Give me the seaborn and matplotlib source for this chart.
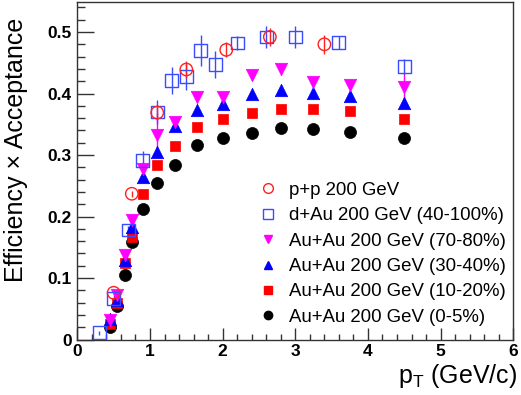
import numpy as np
import pandas as pd
import matplotlib
matplotlib.use("Agg")
import matplotlib.pyplot as plt
import seaborn as sns
from matplotlib.ticker import MultipleLocator
from matplotlib.lines import Line2D

sns.set_style("ticks")
plt.rcParams['font.family'] = ['Liberation Sans', 'DejaVu Sans']
plt.rcParams['mathtext.fontset'] = 'custom'
plt.rcParams['mathtext.rm'] = 'Liberation Sans'
plt.rcParams['text.color'] = 'black'
plt.rcParams['axes.labelcolor'] = 'black'
plt.rcParams['xtick.color'] = 'black'
plt.rcParams['ytick.color'] = 'black'

# ---- data ----
x_au = [0.45, 0.55, 0.65, 0.75, 0.9, 1.1, 1.35, 1.65, 2.0, 2.4, 2.8, 3.25, 3.75, 4.5]
y_0_5 = [0.020, 0.055, 0.105, 0.158, 0.212, 0.254, 0.283, 0.316, 0.327, 0.335, 0.344, 0.343, 0.337, 0.328]
e_0_5 = [0.002, 0.003, 0.003, 0.003, 0.003, 0.003, 0.003, 0.003, 0.003, 0.003, 0.003, 0.003, 0.003, 0.004]
y_10_20 = [0.026, 0.060, 0.124, 0.166, 0.237, 0.283, 0.315, 0.345, 0.358, 0.368, 0.375, 0.374, 0.372, 0.359]
e_10_20 = [0.002, 0.003, 0.004, 0.004, 0.004, 0.004, 0.004, 0.004, 0.004, 0.004, 0.004, 0.004, 0.004, 0.005]
y_30_40 = [0.033, 0.064, 0.129, 0.183, 0.264, 0.305, 0.347, 0.373, 0.383, 0.399, 0.406, 0.401, 0.396, 0.384]
e_30_40 = [0.003, 0.004, 0.005, 0.006, 0.006, 0.006, 0.005, 0.005, 0.005, 0.005, 0.005, 0.005, 0.006, 0.008]
y_70_80 = [0.032, 0.072, 0.137, 0.194, 0.277, 0.333, 0.354, 0.394, 0.395, 0.430, 0.440, 0.419, 0.414, 0.410]
e_70_80 = [0.005, 0.006, 0.008, 0.010, 0.012, 0.035, 0.008, 0.008, 0.008, 0.008, 0.008, 0.008, 0.010, 0.025]

x_pp = [0.5, 0.75, 1.1, 1.5, 2.05, 2.65, 3.4]
y_pp = [0.076, 0.237, 0.369, 0.439, 0.471, 0.492, 0.480]
e_pp = [0.004, 0.005, 0.010, 0.014, 0.012, 0.014, 0.015]

x_dau = [0.3, 0.5, 0.7, 0.9, 1.1, 1.3, 1.5, 1.7, 1.9, 2.2, 2.6, 3.0, 3.6, 4.5]
y_dau = [0.011, 0.067, 0.178, 0.291, 0.370, 0.421, 0.428, 0.470, 0.447, 0.482, 0.492, 0.492, 0.483, 0.444]
e_dau = [0.003, 0.005, 0.006, 0.015, 0.020, 0.022, 0.022, 0.025, 0.022, 0.012, 0.018, 0.018, 0.010, 0.012]

labels = ["p+p 200 GeV", "d+Au 200 GeV (40-100%)", "Au+Au 200 GeV (70-80%)",
          "Au+Au 200 GeV (30-40%)", "Au+Au 200 GeV (10-20%)", "Au+Au 200 GeV (0-5%)"]

# series: (label, x, y, err, color, marker, filled, size)
series = [
    (labels[5], x_au, y_0_5, e_0_5, "black", "o", True, 75),
    (labels[4], x_au, y_10_20, e_10_20, "#ff0000", "s", True, 62),
    (labels[3], x_au, y_30_40, e_30_40, "#0000ff", "^", True, 80),
    (labels[2], x_au, y_70_80, e_70_80, "#ff00ff", "v", True, 80),
    (labels[1], x_dau, y_dau, e_dau, "#3a4cff", "s", False, 85),
    (labels[0], x_pp, y_pp, e_pp, "#ff2020", "o", False, 80),
]

fig = plt.figure(figsize=(5.21, 3.95), dpi=100)
ax = fig.add_axes([0.1484, 0.1405, 0.8368, 0.8532])

handles = {}
for lab, xs, ys, es, col, mk, filled, sz in series:
    df = pd.DataFrame({"x": xs, "y": ys, "e": es})
    ax.errorbar(df["x"], df["y"], yerr=df["e"], fmt="none", ecolor=col, elinewidth=1.0, capsize=0, zorder=2)
    if filled:
        sns.scatterplot(data=df, x="x", y="y", ax=ax, marker=mk, s=sz, color=col,
                        edgecolor=col, linewidth=0.5, zorder=3)
        h = Line2D([], [], linestyle="none", marker=mk, markersize=6, color=col, markeredgecolor=col)
    else:
        sns.scatterplot(data=df, x="x", y="y", ax=ax, marker=mk, s=sz, facecolor="none",
                        edgecolor=col, linewidth=1.0, zorder=4)
        h = Line2D([], [], linestyle="none", marker=mk, markersize=7, markerfacecolor="none",
                   markeredgecolor=col, markeredgewidth=1.0)
    handles[lab] = h

ax.legend([handles[l] for l in labels], labels, loc="upper left", bbox_to_anchor=(0.417, 0.468),
          frameon=False, fontsize=13.4, handletextpad=0.6, labelspacing=0.45, borderpad=0,
          handlelength=1.0, borderaxespad=0, labelcolor="black")

ax.set_xlim(0, 6)
ax.set_ylim(0, 0.548)
ax.xaxis.set_major_locator(MultipleLocator(1))
ax.xaxis.set_minor_locator(MultipleLocator(0.2))
ax.yaxis.set_major_locator(MultipleLocator(0.1))
ax.yaxis.set_minor_locator(MultipleLocator(0.02))
ax.set_xticks(range(7))
ax.set_xticklabels([str(i) for i in range(7)])
ax.set_yticks([0, 0.1, 0.2, 0.3, 0.4, 0.5])
ax.set_yticklabels(["0", "0.1", "0.2", "0.3", "0.4", "0.5"])
ax.tick_params(axis="both", which="both", direction="in", top=False, right=False,
               color="#333333", labelcolor="black")
ax.tick_params(axis="y", which="major", length=12, width=1, labelsize=12.5, pad=4)
ax.tick_params(axis="y", which="minor", length=6, width=1)
ax.tick_params(axis="x", which="major", length=9, width=1, labelsize=12.5, pad=3)
ax.tick_params(axis="x", which="minor", length=4.5, width=1)
for lbl in ax.get_xticklabels() + ax.get_yticklabels():
    lbl.set_fontweight("bold")
for sp in ax.spines.values():
    sp.set_visible(True)
    sp.set_linewidth(1.0)
    sp.set_color("#333333")

ax.set_xlabel(r"p$_{\mathregular{T}}$ (GeV/c)", fontsize=18, ha="right", color="black")
ax.xaxis.set_label_coords(1.01, -0.068)
ax.set_ylabel("Efficiency × Acceptance", fontsize=18, ha="right", color="black")
ax.yaxis.set_label_coords(-0.113, 0.955)

fig.savefig("out.png", dpi=100)
